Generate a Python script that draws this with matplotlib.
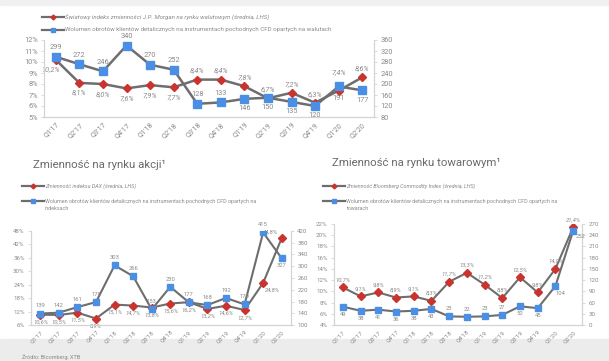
import matplotlib
matplotlib.use("Agg")
import matplotlib.pyplot as plt
from matplotlib.lines import Line2D
from matplotlib.patches import Rectangle

plt.rcParams['font.family'] = ['Roboto', 'DejaVu Sans']

quarters = ["Q1'17", "Q2'17", "Q3'17", "Q4'17", "Q1'18", "Q2'18", "Q3'18",
            "Q4'18", "Q1'19", "Q2'19", "Q3'19", "Q4'19", "Q1'20", "Q2'20"]

# FX
fx_vol_idx = [10.2, 8.1, 8.0, 7.6, 7.9, 7.7, 8.4, 8.4, 7.8, 6.7, 7.2, 6.3, 7.4, 8.6]
fx_cfd = [299, 272, 246, 340, 270, 252, 128, 133, 146, 150, 135, 120, 191, 177]
# Equities
dax_vol = [10.6, 10.5, 11.5, 8.9, 15.1, 14.7, 13.8, 15.6, 16.2, 13.2, 14.6, 12.7, 24.8, 44.8]
idx_cfd = [139, 142, 161, 178, 303, 266, 153, 230, 177, 168, 192, 170, 415, 327]
# Commodities
bcom_vol = [10.7, 9.1, 9.8, 8.9, 9.1, 8.3, 11.7, 13.3, 11.2, 8.8, 12.5, 9.8, 14.0, 21.4]
com_cfd = [49, 38, 41, 36, 38, 43, 23, 22, 23, 27, 50, 45, 104, 252]

GRAY = '#6e6e6e'
TXT = '#8a8a8a'
RED = '#c9342f'
BLUE = '#4a8fe3'
SPINE = '#d4d4d4'

W, H = 609, 361
fig = plt.figure(figsize=(W / 100, H / 100), dpi=100)


def box(l, t, r, b):
    return [l / W, 1 - b / H, (r - l) / W, (b - t) / H]


def chart(rect, left_vals, right_vals, lylim, lyticks, ryticks, ryl,
          lplace, rplace, msize, fs_tick, fs_lab, lw):
    ax = fig.add_axes(rect)
    ax2 = ax.twinx()
    x = list(range(len(quarters)))
    ax.plot(x, left_vals, color=GRAY, lw=lw, marker='D', ms=msize * 0.8,
            mfc=RED, mec=RED, zorder=3)
    ax2.plot(x, right_vals, color=GRAY, lw=lw, marker='s', ms=msize,
             mfc=BLUE, mec=BLUE, zorder=3)
    ax.set_xlim(-0.5, len(quarters) - 0.5)
    ax.set_ylim(*lylim)
    ax2.set_ylim(*ryl)
    ax.set_yticks(lyticks)
    ax.set_yticklabels([f"{v:g}%" for v in lyticks])
    ax2.set_yticks(ryticks)
    ax2.set_yticklabels([f"{v:g}" for v in ryticks])
    ax.set_xticks(x)
    ax.set_xticklabels(quarters, rotation=45, ha='right', rotation_mode='anchor')
    for a in (ax, ax2):
        for s in a.spines.values():
            s.set_color(SPINE)
            s.set_linewidth(0.8)
        a.spines['top'].set_visible(False)
        a.tick_params(colors=TXT, labelsize=fs_tick, length=2.5, width=0.6,
                      color=SPINE, pad=2)
        a.patch.set_visible(False)
    ax.tick_params(axis='x', length=0, pad=3)
    for i, v in enumerate(left_vals):
        dx, dy = lplace[i]
        ax.annotate(f"{v:.1f}%".replace('.', ','), (i, v), xytext=(dx, dy),
                    textcoords='offset points', ha='center', va='center',
                    fontsize=fs_lab, color=TXT, style='italic', zorder=5)
    for i, v in enumerate(right_vals):
        dx, dy = rplace[i]
        ax2.annotate(f"{v}", (i, v), xytext=(dx, dy),
                     textcoords='offset points', ha='center', va='center',
                     fontsize=fs_lab, color=TXT, zorder=5)
    return ax, ax2


def legend(x0, y1, y2, t1, t2, fs, wrap=None):
    for y, c in ((y1, RED), (y2, BLUE)):
        fig.add_artist(Line2D([x0 / W, (x0 + 22) / W], [1 - y / H] * 2,
                              color=GRAY, lw=1.6))
        fig.add_artist(Line2D([(x0 + 11) / W], [1 - y / H], marker='D' if c == RED else 's',
                              ms=2.5, mfc=c, mec=c, color=GRAY))
    fig.text((x0 + 23) / W, 1 - y1 / H, t1, fontsize=fs, color=TXT,
             style='italic', va='center')
    fig.text((x0 + 23) / W, 1 - y2 / H, t2, fontsize=fs, color=TXT,
             va='center')
    if wrap:
        fig.text((x0 + 23) / W, 1 - (y2 + 8) / H, wrap, fontsize=fs,
                 color=TXT, va='center')


A, B = 6.5, -7
# Top chart (FX)
lp = [(-4, B), (0, B), (0, B), (0, B), (0, B), (0, B), (0, A), (0, A),
      (0, A), (0, A), (0, A), (0, A), (0, 13), (0, A)]
rp = [(0, A), (0, A), (0, A), (0, A), (0, A), (0, A), (0, A), (0, A),
      (0, B), (0, B), (0, B), (0, B), (0, -9), (0, B)]
chart(box(44, 40, 374, 117), fx_vol_idx, fx_cfd, (5, 12), list(range(5, 13)),
      list(range(80, 361, 40)), (80, 360), lp, rp, 5.5, 5.3, 5.3, 1.8)
legend(42, 17, 30,
       "Światowy indeks zmienności J.P. Morgan na rynku walutowym (średnia, LHS)",
       "Wolumen obrotów klientów detalicznych na instrumentach pochodnych CFD opartych na walutach",
       4.4)

# Bottom-left (equities)
a, b = 5.5, -5.5
lp = [(0, b), (0, b), (0, b), (0, b), (0, b), (0, b), (0, b), (0, b),
      (0, b), (0, b), (0, b), (0, b), (7, b), (-8, 4)]
rp = [(0, a), (0, a), (0, a), (0, a), (0, a), (0, a), (0, a), (0, a),
      (0, a), (0, a), (0, a), (0, a), (0, a), (0, b)]
chart(box(31, 231, 291, 325), dax_vol, idx_cfd, (6, 48), list(range(6, 49, 6)),
      list(range(100, 421, 40)), (100, 420), lp, rp, 4.6, 4.4, 4.2, 1.5)
fig.text(33 / W, 1 - 165 / H, "Zmienność na rynku akcji¹", fontsize=8.2,
         color='#6a6a6a', va='center')
legend(22, 186, 201, "Zmienność indeksu DAX (średnia, LHS)",
       "Wolumen obrotów klientów detalicznych na instrumentach pochodnych CFD opartych na",
       3.9, wrap="indeksach")

# Bottom-right (commodities)
lp = [(0, a)] * 14
rp = [(0, b), (0, b), (0, b), (0, b), (0, b), (0, b), (0, a), (0, a),
      (0, a), (0, a), (0, b), (0, b), (4, b), (5, -4)]
chart(box(334, 224, 582, 325), bcom_vol, com_cfd, (4, 22), list(range(4, 23, 2)),
      list(range(0, 271, 30)), (0, 270), lp, rp, 4.6, 4.4, 4.2, 1.5)
fig.text(332 / W, 1 - 163 / H, "Zmienność na rynku towarowym¹", fontsize=8.2,
         color='#6a6a6a', va='center')
legend(323, 186, 201, "Zmienność Bloomberg Commodity Index (średnia, LHS)",
       "Wolumen obrotów klientów detalicznych na instrumentach pochodnych CFD opartych na",
       3.9, wrap="towarach")

# frame shading
fig.add_artist(Rectangle((0, 0), 1, 22 / H, transform=fig.transFigure,
                         color='#ececec', zorder=-5))
fig.add_artist(Rectangle((0, 1 - 5 / H), 1, 5 / H, transform=fig.transFigure,
                         color='#f0f0f0', zorder=-5))
fig.text(22 / W, 1 - 357 / H, "Źródło: Bloomberg, XTB", fontsize=4,
         color='#8a8a8a', va='center')

fig.savefig('out.png', dpi=100)
